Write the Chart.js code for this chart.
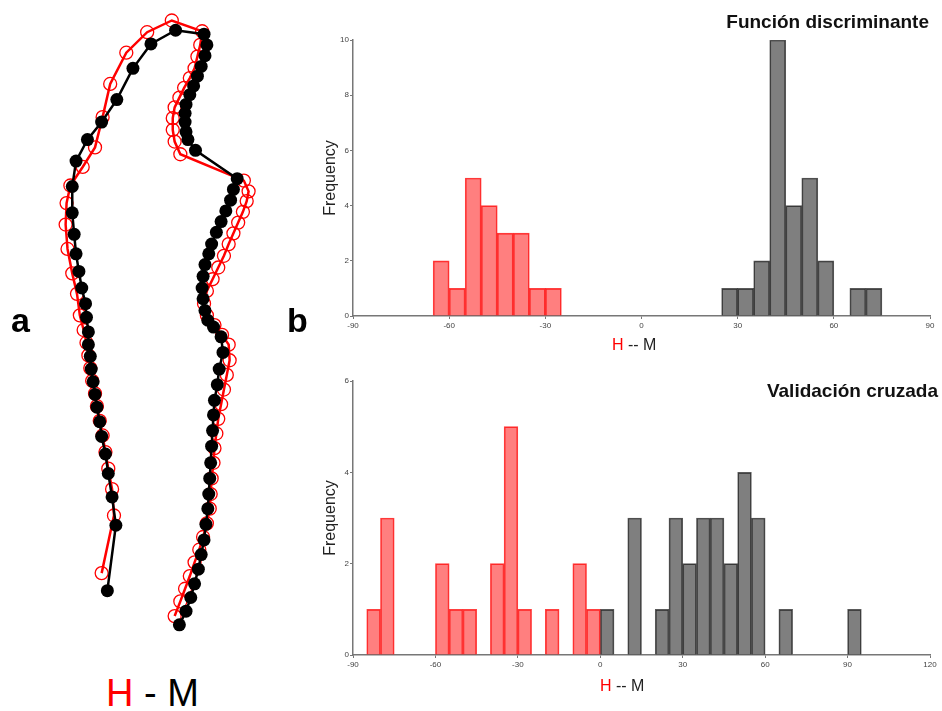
<!DOCTYPE html>
<html>
<head>
<meta charset="utf-8">
<script src="https://cdn.jsdelivr.net/npm/chart.js@4.4.0/dist/chart.umd.min.js"></script>
<style>
  html, body { margin:0; padding:0; background:#fff; }
  #wrap { position:relative; width:942px; height:711px; overflow:hidden; font-family:'Liberation Sans', Arial, sans-serif; }
  canvas { position:absolute; }
  .lbl { position:absolute; line-height:1; white-space:nowrap; }
  .panel { font-weight:bold; font-size:34px; color:#000; }
  .ttl { font-weight:bold; font-size:19px; color:#111; text-align:right; }
  .xl { font-size:16px; color:#222; }
  .red { color:#f00; }
</style>
</head>
<body>
<div id="wrap">
  <canvas id="shape" width="300" height="660" style="left:0;top:0"></canvas>
  <canvas id="histTop" width="642" height="360" style="left:300px;top:0"></canvas>
  <canvas id="histBot" width="642" height="351" style="left:300px;top:360px"></canvas>

  <div class="lbl panel" style="left:11px;top:303px">a</div>
  <div class="lbl panel" style="left:287px;top:303px">b</div>
  <div class="lbl" style="left:106px;top:674px;font-size:38px"><span class="red">H</span> - M</div>

  <div class="lbl ttl" style="right:13px;top:12px">Función discriminante</div>
  <div class="lbl ttl" style="right:4px;top:381px">Validación cruzada</div>
  <div class="lbl xl" style="left:612px;top:337px"><span class="red">H</span> -- M</div>
  <div class="lbl xl" style="left:600px;top:678px"><span class="red">H</span> -- M</div>
</div>
<script>
// outline landmarks (panel a), bottom-left -> top -> bottom-right
const blackOutline = [
  [105,597],[114,530],[110,501],[106,477],[103,457],[99,439],[97,424],[94,409],[92,396],[90,383],
  [88,370],[87,357],[85,345],[85,332],[83,317],[82,303],[78,287],[75,270],[72,252],[70,232],
  [68,210],[68,183],[72,157],[84,135],[99,117],[115,94],[132,62],[151,37],[177,23],
  [207,27],[210,38],[208,49],[204,60],[200,70],[196,80],[192,89],[188,99],[187,108],[187,117],
  [188,127],[190,135],[198,146],
  [242,175],[238,186],[235,197],[230,208],[225,219],[220,230],[215,242],[212,252],[208,263],[206,275],
  [205,287],[206,298],[208,310],[211,320],[217,327],[225,337],[227,353],[223,370],[221,386],[218,402],
  [217,417],[216,433],[215,449],[214,466],[213,482],[212,498],[211,513],[209,529],[207,545],[204,560],
  [201,575],[197,590],[193,604],[188,618],[181,632]
];
const redOutline = [
  [99,579],[112,520],[110,493],[106,472],[103,455],[100,438],[97,423],[94,408],[92,395],[89,382],
  [87,369],[85,356],[83,343],[80,330],[76,315],[73,293],[68,272],[63,247],[61,222],[62,200],
  [66,182],[79,163],[92,143],[100,112],[108,78],[125,46],[147,25],[173,13],
  [205,24],[203,38],[200,50],[197,62],[192,72],[186,82],[181,92],[176,102],[174,113],[174,125],
  [176,137],[182,150],
  [249,177],[254,188],[252,198],[248,209],[243,220],[238,231],[233,242],[228,254],[222,266],[216,278],
  [210,290],[207,303],[210,315],[218,325],[226,335],[233,345],[234,361],[231,376],[228,391],[225,406],
  [222,421],[220,436],[218,451],[217,466],[215,482],[214,498],[213,513],[210,528],[206,542],[202,555],
  [197,568],[192,582],[187,595],[182,608],[176,623]
];

// histograms (panel b), bins of width 5, given by left edge
const binWidth = 5;
const topRedStart  = [-65,-60,-55,-50,-45,-40,-35,-30];
const topRedFreq   = [2,1,5,4,3,3,1,1];
const topGrayStart = [25,30,35,40,45,50,55,65,70];
const topGrayFreq  = [1,1,2,10,4,5,2,1,1];
const botRedStart  = [-85,-80,-60,-55,-50,-40,-35,-30,-20,-10,-5];
const botRedFreq   = [1,3,2,1,1,2,5,1,1,2,1];
const botGrayStart = [0,10,20,25,30,35,40,45,50,55,65,90];
const botGrayFreq  = [1,3,1,3,2,3,3,2,4,3,1,1];

const topXRange = [-90, 90], topYMax = 10;
const botXRange = [-90, 120], botYMax = 6;

const toXY = pts => pts.map(p => ({x:p[0], y:p[1]}));

new Chart(document.getElementById('shape'), {
  type:'scatter',
  data:{ datasets:[
    { data:toXY(blackOutline), showLine:true, borderColor:'#000', borderWidth:2.5,
      pointRadius:6.5, pointBackgroundColor:'#000', pointBorderColor:'#000', pointBorderWidth:0 },
    { data:toXY(redOutline), showLine:true, borderColor:'#f00', borderWidth:2.5,
      pointRadius:6.5, pointBackgroundColor:'rgba(0,0,0,0)', pointBorderColor:'#f00', pointBorderWidth:1.3 }
  ]},
  options:{
    responsive:false, animation:false, devicePixelRatio:1,
    layout:{ padding:0 },
    plugins:{ legend:{display:false}, tooltip:{enabled:false} },
    scales:{
      x:{ display:false, min:0, max:300 },
      y:{ display:false, min:0, max:660, reverse:true }
    }
  }
});

const bins = (starts, freq) => starts.map((s,i) => ({ x:s + binWidth/2, y:freq[i] }));

function hist(id, redS, redF, grayS, grayF, xr, ymax, padTop, xAxisH){
  const axisCol = '#777';
  const tickFont = { family:'Liberation Sans', size:8 };
  return new Chart(document.getElementById(id), {
    type:'bar',
    data:{ datasets:[
      { data:bins(redS, redF), backgroundColor:'rgba(255,0,0,0.5)', borderColor:'rgba(255,0,0,0.75)',
        borderWidth:1, borderSkipped:'bottom', grouped:false, barPercentage:1, categoryPercentage:1 },
      { data:bins(grayS, grayF), backgroundColor:'rgba(0,0,0,0.5)', borderColor:'rgba(20,20,20,0.7)',
        borderWidth:1, borderSkipped:'bottom', grouped:false, barPercentage:1, categoryPercentage:1 }
    ]},
    options:{
      responsive:false, animation:false, devicePixelRatio:1,
      layout:{ padding:{ top:padTop, right:12, left:0, bottom:0 } },
      plugins:{ legend:{display:false}, tooltip:{enabled:false} },
      scales:{
        x:{ type:'linear', min:xr[0], max:xr[1], offset:false,
            grid:{ drawOnChartArea:false, offset:false, tickLength:3, tickColor:axisCol },
            border:{ color:axisCol, width:1.5 },
            ticks:{ stepSize:30, padding:2, color:'#444', font:tickFont, maxRotation:0 },
            afterFit: s => { s.height = xAxisH; } },
        y:{ min:0, max:ymax,
            grid:{ drawOnChartArea:false, tickLength:3, tickColor:axisCol },
            border:{ color:axisCol, width:1.5 },
            ticks:{ stepSize:2, padding:1, color:'#444', font:tickFont },
            title:{ display:true, text:'Frequency', color:'#222',
                    font:{ family:'Liberation Sans', size:16 }, padding:{ top:21, bottom:0 } },
            afterFit: s => { s.width = 53; } }
      }
    }
  });
}

hist('histTop', topRedStart, topRedFreq, topGrayStart, topGrayFreq, topXRange, topYMax, 40, 44);
hist('histBot', botRedStart, botRedFreq, botGrayStart, botGrayFreq, botXRange, botYMax, 21, 56);
</script>
</body>
</html>
